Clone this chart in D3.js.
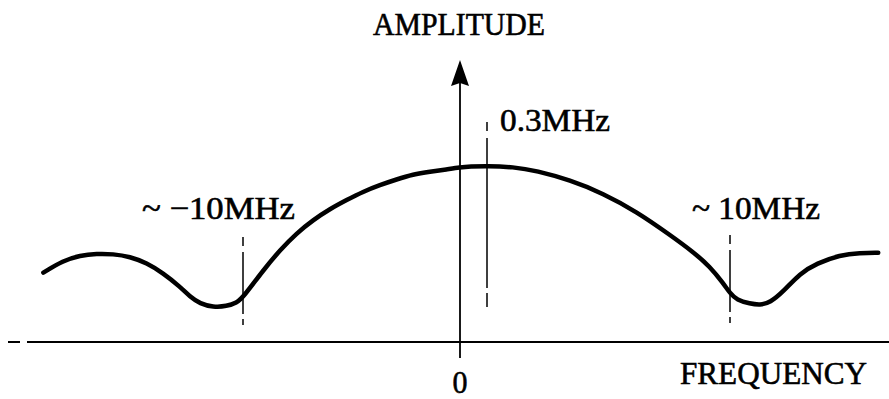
<!DOCTYPE html>
<html>
<head>
<meta charset="utf-8">
<script src="https://cdn.jsdelivr.net/npm/d3@7"></script>
<style>
  html, body { margin: 0; padding: 0; background: #fff; }
  svg { display: block; }
  text { font-family: "Liberation Serif", "DejaVu Serif", serif; fill: #000; stroke: #000; stroke-width: 0.6px; }
</style>
</head>
<body>
<script>
// ---- data (frequency in MHz, schematic axis; amplitude relative to peak) ----
const freq = [-19.2, -18.29, -17.51, -16.74, -15.99, -15.21, -14.44, -13.69, -12.9, -12.44,
  -11.98, -11.38, -10.75, -10.29, -10.0, -9.06, -8.29, -7.53, -6.77, -5.99, -5.22, -4.47,
  -3.69, -2.92, -2.17, -1.38, -0.61, 0, 0.11, 0.3, 1.34, 2.28, 3.61, 4.93, 6.28, 7.61,
  8.54, 9.2, 9.73, 10.0, 10.27, 10.8, 11.2, 11.6, 12.13, 12.8, 13.47, 14.4, 15.2, 15.93];
const amplitude = [0.394, 0.462, 0.492, 0.502, 0.5, 0.485, 0.449, 0.392, 0.314, 0.257,
  0.218, 0.198, 0.203, 0.223, 0.253, 0.409, 0.523, 0.618, 0.693, 0.756, 0.807, 0.854,
  0.892, 0.924, 0.952, 0.968, 0.981, 0.992, 0.997, 1.0, 0.995, 0.973, 0.92, 0.845, 0.74, 0.608,
  0.511, 0.428, 0.334, 0.277, 0.239, 0.218, 0.21, 0.223, 0.286, 0.39, 0.447, 0.494, 0.507, 0.507];

const markerFreq = [-10, 0.3, 10];
const markerLabels = ["~ \u221210MHz", "0.3MHz", "~ 10MHz"];
const markerTop = [0.597, 1.25, 0.608];
const markerBottom = [0.097, 0.199, 0.108];

const xTickValues = [0];
const xTickLabels = ["0"];
const xTitle = "FREQUENCY";
const yTitle = "AMPLITUDE";

// ---- layout ----
const W = 889, H = 399;
const svg = d3.select("body").append("svg").attr("width", W).attr("height", H);

// schematic (non-uniform) frequency axis
const x = d3.scaleLinear().domain([-20, 0, 0.3, 10, 20]).range([26, 460, 487, 730, 980]);
const y = d3.scaleLinear().domain([0, 1]).range([342, 166]);

// horizontal axis
svg.append("line")
  .attr("x1", 8).attr("x2", W).attr("y1", y(0)).attr("y2", y(0))
  .attr("stroke", "#000").attr("stroke-width", 2)
  .attr("stroke-dasharray", "12,7,2000");

// vertical axis with arrow
const x0 = x(0);
svg.append("line")
  .attr("x1", x0).attr("x2", x0).attr("y1", y(0) + 16).attr("y2", 78)
  .attr("stroke", "#000").attr("stroke-width", 1.8);
svg.append("path")
  .attr("d", d3.line()([[x0, 60], [x0 + 9, 86], [x0, 83], [x0 - 9, 86]]) + "Z")
  .attr("fill", "#000");

// marker dashed lines
const dashes = ["9,6,62,5,20", "9,7,150,5,20", "9,6,62,5,20"];
markerFreq.forEach((f, i) => {
  svg.append("line")
    .attr("x1", x(f)).attr("x2", x(f))
    .attr("y1", y(markerTop[i])).attr("y2", y(markerBottom[i]))
    .attr("stroke", "#000").attr("stroke-width", 1.5)
    .attr("stroke-dasharray", dashes[i]);
});

// curve
const pts = freq.map((f, i) => [x(f), y(amplitude[i])]);
svg.append("path")
  .attr("d", d3.line().curve(d3.curveBasis)(pts))
  .attr("fill", "none").attr("stroke", "#000").attr("stroke-width", 4.5)
  .attr("stroke-linecap", "round").attr("stroke-linejoin", "round");

// marker labels
const fs = 32;
svg.append("text").attr("x", x(markerFreq[0]) + 52).attr("y", 218.5)
  .attr("text-anchor", "end").attr("font-size", fs)
  .attr("textLength", 153).attr("lengthAdjust", "spacingAndGlyphs")
  .text(markerLabels[0]);
svg.append("text").attr("x", x(markerFreq[1]) + 13).attr("y", 131)
  .attr("font-size", fs)
  .attr("textLength", 110).attr("lengthAdjust", "spacingAndGlyphs")
  .text(markerLabels[1]);
svg.append("text").attr("x", x(markerFreq[2]) - 38).attr("y", 218.5)
  .attr("font-size", fs)
  .attr("textLength", 128).attr("lengthAdjust", "spacingAndGlyphs")
  .text(markerLabels[2]);

// tick label
xTickValues.forEach((v, i) => {
  svg.append("text").attr("x", x(v)).attr("y", 393)
    .attr("text-anchor", "middle").attr("font-size", fs)
    .attr("textLength", 15).attr("lengthAdjust", "spacingAndGlyphs")
    .text(xTickLabels[i]);
});

// titles
svg.append("text").attr("x", 773.5).attr("y", 383.5)
  .attr("text-anchor", "middle").attr("font-size", fs)
  .attr("textLength", 187).attr("lengthAdjust", "spacingAndGlyphs")
  .text(xTitle);
svg.append("text").attr("x", 459).attr("y", 35)
  .attr("text-anchor", "middle").attr("font-size", fs)
  .attr("textLength", 172).attr("lengthAdjust", "spacingAndGlyphs")
  .text(yTitle);
</script>
</body>
</html>
